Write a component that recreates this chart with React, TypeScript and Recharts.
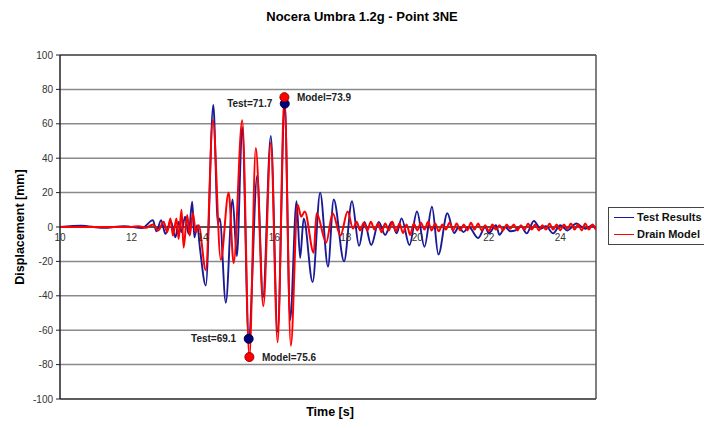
import React from 'react';
import {
  LineChart,
  Line,
  XAxis,
  YAxis,
  CartesianGrid,
  ReferenceLine,
  ReferenceDot,
} from 'recharts';

// Test results (blue) - turning points
const testTime = [
  10.0, 10.6, 11.2, 11.8, 12.3, 12.6, 12.7, 12.83, 12.95, 13.1, 13.23, 13.32, 13.4, 13.5, 13.6, 13.7,
  13.76, 13.84, 13.92, 14.08, 14.29, 14.42, 14.47, 14.64, 14.83, 14.95, 15.1, 15.28, 15.52, 15.68,
  15.9, 16.09, 16.29, 16.44, 16.62, 16.72, 16.82, 17.07, 17.28, 17.5, 17.66, 17.95, 18.17, 18.37,
  18.52, 18.71, 18.92, 19.1, 19.28, 19.42, 19.56, 19.78, 19.99, 20.2, 20.41, 20.59, 20.84, 21.03,
  21.16, 21.29, 21.44, 21.7, 21.9, 22.0, 22.2, 22.3, 22.46, 22.6, 22.75, 22.9, 23.06, 23.26, 23.45,
  23.6, 23.8, 24.0, 24.2, 24.45, 24.7, 24.9, 25.0,
];
const testDisp = [
  0, 0.8, -0.5, 0.5, -0.6, 4, -2.5, 4, -4, 3.5, -6, 3, -3, 6, -4, 14.7,
  -6, 1, -13, -34, 71, 2, 5, -44, 16, -17, 58, -65, 30, -41,
  53, -61, 71.7, -54, 15, -18, 5, -32, 20, -23, 16, -20, 15, -11,
  3, -10.5, 3, -4.6, 3, -3.7, 5, -10.5, 9, -11.5, 11.8, -16, 8, -3.5,
  0, -3, 0, -6.4, 0, -3.7, 1, -4.6, 0, -2.5, -2, 0.5, -3.7, 3.5, -1,
  0.5, -3.7, 1, -2, 2, -1, 1, -1.5,
];

// Drain model (red)
const modelTime = [
  10.0, 12.0, 12.2, 12.4, 12.6, 12.75, 12.9, 13.0, 13.09, 13.16, 13.26, 13.32, 13.4, 13.46, 13.56,
  13.63, 13.72, 13.8, 13.88, 14.08, 14.28, 14.5, 14.72, 14.86, 15.1, 15.3, 15.48, 15.69, 15.9, 16.09,
  16.28, 16.46, 16.65, 16.75, 16.85, 17.1, 17.18, 17.45, 17.63, 17.85, 18.05, 18.2, 18.3, 18.4,
  18.5, 18.6, 18.7, 18.8, 18.9, 19.0, 19.1, 19.2, 19.3, 19.4, 19.5, 19.6, 19.7, 19.8, 19.9, 20.0,
  20.1, 20.2, 20.3, 20.4, 20.5, 20.6, 20.7, 20.8, 20.9, 21.0, 21.1, 21.2, 21.3, 21.4, 21.5, 21.6,
  21.7, 21.8, 21.9, 22.0, 22.1, 22.2, 22.3, 22.4, 22.5, 22.6, 22.7, 22.8, 22.9, 23.0, 23.1, 23.2,
  23.3, 23.4, 23.5, 23.6, 23.7, 23.8, 23.9, 24.0, 24.1, 24.2, 24.3, 24.4, 24.5, 24.6, 24.7, 24.8,
  24.9, 25.0,
];
const modelDisp = [
  0, 0, 0.5, -0.5, 1.5, -2, 3, -3, 5, -5, 5, -7, 10, -12, 7,
  -5, 8, -3, 1, -25, 62, -19, 20, -21, 62, -75.6, 46, -46, 49, -67,
  75.5, -69, 13, 6, 9, -15, 8, -9, 8, -5, 9, -1, 3, -2,
  2.5, -2, 3, -1.5, 2, -3, 2, -2, 3, -2.5, 2, -3.5, 1.5, -4.6, 2, -2,
  2.5, -1.5, 3, -2, 2, -2.5, 1.5, -1.5, 2.5, -2, 2, -2, 1.5, -2, 2.5, -1.5,
  2, -2, 1, -2.5, 1.5, -1.5, 1, -2, 1.5, -1, 1.5, -2, 1, -1.5, 2, -1.5,
  1.5, -2, 1, -1.5, 2, -1.5, 1.5, -2, 1.5, -1, 2, -1.5, 1.5, -2, 2, -1.5,
  1.5, -1.5,
];

// Peak markers
const markerTime = [16.29, 16.28, 15.28, 15.3];
const markerDisp = [71.7, 75.5, -65, -75.6];
const markerLabel = ['Test=71.7', 'Model=73.9', 'Test=69.1', 'Model=75.6'];
const markerSeries = ['test', 'model', 'test', 'model'];

const yTicks = [-100, -80, -60, -40, -20, 0, 20, 40, 60, 80, 100];
const xTicks = [10, 12, 14, 16, 18, 20, 22, 24];

const testData = testTime.map((t, i) => ({ t, v: testDisp[i] }));
const modelData = modelTime.map((t, i) => ({ t, v: modelDisp[i] }));

const FONT = '"Liberation Sans", Arial, sans-serif';
const BLUE = '#1a1a96';
const RED = '#ff0000';

const TOP = 55;
const BOTTOM = 399;
const ZERO_Y = (TOP + BOTTOM) / 2;

const XTick = ({ x, payload }: any) => (
  <text
    x={x}
    y={ZERO_Y + 14}
    textAnchor="middle"
    fontSize={10}
    fontFamily={FONT}
    fill="#333"
  >
    {payload.value}
  </text>
);

export default function App() {
  return (
    <div
      style={{
        position: 'absolute',
        left: 0,
        top: 0,
        width: 704,
        height: 428,
        background: '#fff',
        fontFamily: FONT,
      }}
    >
      <div
        style={{
          position: 'absolute',
          top: 9,
          left: 252,
          width: 220,
          textAlign: 'center',
          fontSize: 13,
          fontWeight: 'bold',
        }}
      >
        Nocera Umbra 1.2g - Point 3NE
      </div>
      <div
        style={{
          position: 'absolute',
          left: 20 - 80,
          top: 220,
          width: 160,
          textAlign: 'center',
          fontSize: 12.5,
          fontWeight: 'bold',
          transform: 'rotate(-90deg)',
        }}
      >
        Displacement [mm]
      </div>
      <div
        style={{
          position: 'absolute',
          left: 280,
          top: 405,
          width: 100,
          textAlign: 'center',
          fontSize: 12.5,
          fontWeight: 'bold',
        }}
      >
        Time [s]
      </div>

      <LineChart
        width={704}
        height={428}
        margin={{ top: TOP, right: 108, bottom: 9, left: 20 }}
      >
        <CartesianGrid vertical={false} stroke="#8a8a8a" strokeWidth={1.5} />
        <XAxis
          dataKey="t"
          type="number"
          domain={[10, 25]}
          ticks={xTicks}
          allowDataOverflow
          height={20}
          tick={<XTick />}
          tickLine={false}
          axisLine={{ stroke: '#444', strokeWidth: 1.5 }}
        />
        <YAxis
          dataKey="v"
          type="number"
          domain={[-100, 100]}
          ticks={yTicks}
          width={40}
          tickSize={4}
          tickMargin={3}
          tick={{ fontSize: 10, fill: '#333', fontFamily: FONT }}
          axisLine={{ stroke: '#222', strokeWidth: 1.5 }}
          tickLine={{ stroke: '#222' }}
        />
        <ReferenceLine y={100} stroke="#555" strokeWidth={1.5} />
        <ReferenceLine x={25} stroke="#555" strokeWidth={1.5} />
        <ReferenceLine y={0} stroke="#000" strokeWidth={1.2} />
        <Line
          data={testData}
          dataKey="v"
          type="monotone"
          stroke={BLUE}
          strokeWidth={1.9}
          dot={false}
          isAnimationActive={false}
        />
        <Line
          data={modelData}
          dataKey="v"
          type="monotone"
          stroke={RED}
          strokeWidth={2}
          dot={false}
          isAnimationActive={false}
        />
        {markerTime.map((t, i) => {
          const isTest = markerSeries[i] === 'test';
          return (
            <ReferenceDot
              key={i}
              x={t}
              y={markerDisp[i]}
              r={4.5}
              fill={isTest ? '#00007a' : RED}
              stroke={isTest ? '#000040' : '#900'}
              label={{
                value: markerLabel[i],
                position: isTest ? 'left' : 'right',
                offset: 8,
                fontSize: 10,
                fontWeight: 'bold',
                fontFamily: FONT,
                fill: '#222',
              }}
            />
          );
        })}
      </LineChart>

      <div
        style={{
          position: 'absolute',
          left: 608,
          top: 207,
          width: 110,
          height: 38,
          border: '1px solid #444',
          boxSizing: 'border-box',
          fontSize: 11,
          fontWeight: 'bold',
          color: '#111',
        }}
      >
        {[
          { name: 'Test Results', color: BLUE },
          { name: 'Drain Model', color: RED },
        ].map((item, i) => (
          <div
            key={item.name}
            style={{
              position: 'absolute',
              left: 5,
              top: 3 + i * 17,
              display: 'flex',
              alignItems: 'center',
              whiteSpace: 'nowrap',
            }}
          >
            <span
              style={{
                display: 'inline-block',
                width: 20,
                height: 0,
                borderTop: `1.5px solid ${item.color}`,
                marginRight: 3,
              }}
            />
            {item.name}
          </div>
        ))}
      </div>
    </div>
  );
}
